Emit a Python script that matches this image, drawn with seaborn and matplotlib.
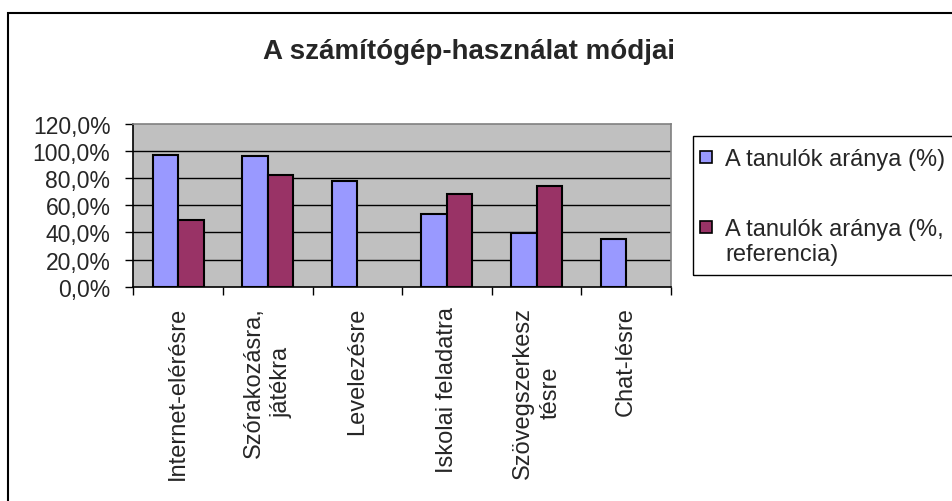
import matplotlib
matplotlib.use("Agg")
import matplotlib.pyplot as plt
from matplotlib.patches import Rectangle
from matplotlib.ticker import FuncFormatter, FixedLocator
import numpy as np
import pandas as pd
import seaborn as sns

categories = ["Internet-elérésre", "Szórakozásra,\njátékra", "Levelezésre",
              "Iskolai feladatra", "Szövegszerkesz\ntésre", "Chat-lésre"]
series_names = ["A tanulók aránya (%)", "A tanulók aránya (%, referencia)"]
students = [97.5, 96.3, 77.8, 53.7, 39.5, 35.2]
reference = [49.2, 82.5, np.nan, 68.6, 74.2, np.nan]
y_ticks = [0, 20, 40, 60, 80, 100, 120]
title = "A számítógép-használat módjai"
colors = ["#9999FF", "#993366"]

rows = []
for c, v in zip(categories, students):
    rows.append({"cat": c, "series": series_names[0], "val": v})
for c, v in zip(categories, reference):
    rows.append({"cat": c, "series": series_names[1], "val": v})
df = pd.DataFrame(rows).dropna()

sns.set_style("white")
plt.rcParams["font.family"] = ["Liberation Sans", "DejaVu Sans"]

W, H = 953, 502
fig = plt.figure(figsize=(W / 100, H / 100), dpi=100)
fig.patch.set_facecolor("white")

def fx(x):
    return x / W

def fy(y):
    return 1 - y / H

L, R, T, B = 133.3, 671.0, 125.0, 287.7
ax = fig.add_axes([fx(L), fy(B), (R - L) / W, (B - T) / H])
ax.set_facecolor("#C0C0C0")

sns.barplot(data=df, x="cat", y="val", hue="series", order=categories,
            hue_order=series_names, palette=colors, width=0.57, saturation=1,
            edgecolor="black", linewidth=1.5, errorbar=None, legend=False,
            ax=ax, zorder=3)

ax.set_ylim(0, 120)
ax.set_xlim(-0.5, len(categories) - 0.5)
ax.set_yticks(y_ticks)
ax.yaxis.set_major_formatter(FuncFormatter(lambda v, p: f"{v:.1f}%".replace(".", ",")))
ax.set_xlabel("")
ax.set_ylabel("")

for yv in y_ticks[1:-1]:
    ax.axhline(yv, color="black", lw=1.0, zorder=1)

ax.set_xticks(range(len(categories)))
ax.set_xticklabels(categories, rotation=90, va="top", ha="center",
                   multialignment="center", fontsize=17, linespacing=1.35)
ax.xaxis.set_minor_locator(FixedLocator(np.arange(-0.5, len(categories), 1.0)))
ax.tick_params(axis="x", which="major", length=0, pad=14)
ax.tick_params(axis="x", which="minor", length=5.5, width=1, color="black",
               direction="out", bottom=True)
ax.tick_params(axis="y", which="major", length=6, width=1, color="black",
               direction="out", left=True, labelsize=16.5, pad=10.5)

for s in ["left", "bottom"]:
    ax.spines[s].set_color("black")
    ax.spines[s].set_linewidth(1.2)
for s in ["top", "right"]:
    ax.spines[s].set_color("#808080")
    ax.spines[s].set_linewidth(1.2)
    ax.spines[s].set_visible(True)

# title
fig.text(fx(469.5), fy(59.3), title, ha="center", va="baseline",
         fontsize=20, fontweight="bold")

# outer chart border
fig.add_artist(Rectangle((fx(8.5), fy(1000)), fx(1200), 1000 / H + (fy(14) - 1),
                         transform=fig.transFigure, fill=False,
                         edgecolor="black", lw=1.5))

# legend
fig.add_artist(Rectangle((fx(692.7), fy(275.7)), fx(400), (275.7 - 137.3) / H,
                         transform=fig.transFigure, fill=False,
                         edgecolor="black", lw=1.0))
hs = 12
for (cy, col) in [(158, colors[0]), (228, colors[1])]:
    fig.add_artist(Rectangle((fx(700), fy(cy + hs / 2)), hs / W, hs / H,
                             transform=fig.transFigure, facecolor=col,
                             edgecolor="black", lw=1.2))
fig.text(fx(725), fy(166), series_names[0], fontsize=17, va="baseline", ha="left")
fig.text(fx(725), fy(236), "A tanulók aránya (%,", fontsize=17, va="baseline", ha="left")
fig.text(fx(725), fy(261), "referencia)", fontsize=17, va="baseline", ha="left")

fig.savefig("out.png", dpi=100)
